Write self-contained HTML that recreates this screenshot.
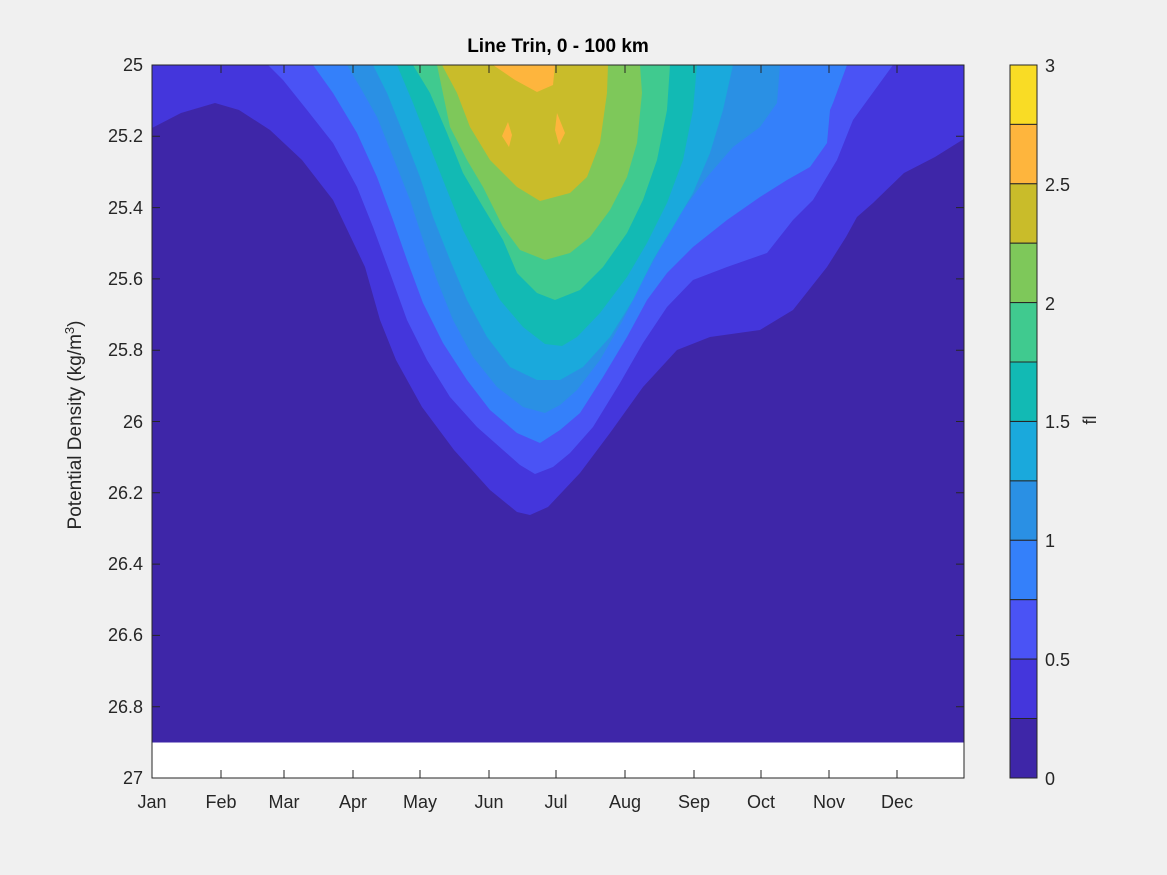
<!DOCTYPE html>
<html><head><meta charset="utf-8"><style>
html,body{margin:0;padding:0;background:#f0f0f0;}
svg{display:block;font-family:"Liberation Sans","DejaVu Sans",sans-serif;}
</style></head><body>
<svg width="1167" height="875" viewBox="0 0 1167 875" xmlns="http://www.w3.org/2000/svg">
<rect width="1167" height="875" fill="#f0f0f0"/>
<defs><clipPath id="ax"><rect x="152" y="65" width="812" height="713"/></clipPath></defs>
<g clip-path="url(#ax)">
<rect x="152" y="65" width="812" height="713" fill="#3e26a8"/>
<path fill="#4436dc" d="M150,65 L966,65 L967,137 L935,157 L904,173 L873,203 L857,217 L846,237 L827,267 L793,310 L760,330 L710,337 L677,350 L643,387 L610,433 L580,473 L548,507 L530,515 L517,512 L490,490 L454,450 L422,407 L396,360 L380,320 L365,267 L333,200 L302,160 L270,130 L239,110 L215,103 L181,113 L152,128 L150,130 Z"/>
<path fill="#4a53f5" d="M268,65 L283,80 L307,110 L333,143 L357,187 L373,227 L390,273 L407,320 L427,360 L450,397 L477,427 L503,450 L520,465 L535,474 L553,467 L570,453 L593,427 L620,383 L643,343 L667,307 L693,280 L727,267 L767,253 L793,220 L813,200 L837,160 L853,120 L893,65 Z"/>
<path fill="#3480fa" d="M313,65 L333,93 L357,133 L377,177 L393,220 L407,260 L423,303 L443,343 L467,380 L490,410 L517,433 L540,443 L560,430 L580,413 L603,377 L627,337 L647,300 L667,273 L693,247 L727,220 L760,197 L787,180 L810,167 L827,143 L830,110 L833,103 L847,65 Z"/>
<path fill="#2a90e4" d="M347,65 L360,87 L377,117 L393,157 L410,200 L423,240 L437,280 L453,320 L473,357 L497,387 L523,407 L545,413 L560,405 L577,390 L600,360 L623,320 L643,280 L663,243 L683,210 L707,177 L733,147 L760,127 L777,103 L780,65 Z"/>
<path fill="#1aa9dc" d="M373,65 L387,93 L403,133 L420,177 L433,217 L450,260 L467,300 L487,337 L510,367 L537,380 L560,380 L583,367 L610,337 L633,300 L653,260 L673,227 L693,193 L710,153 L723,110 L733,65 Z"/>
<path fill="#12bab4" d="M397,65 L413,103 L430,147 L447,190 L463,230 L480,263 L500,300 L523,327 L545,344 L562,346 L577,337 L600,313 L627,277 L647,243 L667,203 L683,160 L693,110 L697,65 Z"/>
<path fill="#40ca8f" d="M413,65 L430,93 L447,133 L463,173 L483,207 L503,240 L517,273 L537,293 L555,300 L580,290 L603,267 L627,233 L643,200 L657,160 L667,110 L670,65 Z"/>
<path fill="#7ec85a" d="M437,65 L450,127 L467,160 L483,187 L503,227 L520,250 L545,260 L570,253 L590,237 L610,210 L627,177 L637,143 L642,93 L640,65 Z"/>
<path fill="#c9bc2a" d="M442,65 L457,93 L470,127 L490,160 L517,187 L540,201 L570,193 L587,177 L600,143 L607,93 L608,65 Z"/>
<path fill="#feb53d" d="M493,65 L515,80 L537,92 L553,85 L555,65 Z"/>
<path fill="#feb53d" d="M508,122 L512,135 L509,147 L502,136 Z"/>
<path fill="#feb53d" d="M557,113 L565,133 L559,145 L555,130 Z"/>
<rect x="152" y="742.5" width="812" height="36" fill="#ffffff"/>
</g>
<rect x="152" y="65" width="812" height="713" fill="none" stroke="#262626" stroke-width="1"/>
<g stroke="#262626" stroke-width="1">
<path d="M152,136.3h8M152,207.6h8M152,278.9h8M152,350.2h8M152,421.5h8M152,492.8h8M152,564.1h8M152,635.4h8M152,706.7h8"/>
<path d="M964,136.3h-8M964,207.6h-8M964,278.9h-8M964,350.2h-8M964,421.5h-8M964,492.8h-8M964,564.1h-8M964,635.4h-8M964,706.7h-8"/>
<path d="M221,778v-8M284,778v-8M353,778v-8M420,778v-8M489,778v-8M556,778v-8M625,778v-8M694,778v-8M761,778v-8M829,778v-8M897,778v-8"/>
<path d="M221,65v8M284,65v8M353,65v8M420,65v8M489,65v8M556,65v8M625,65v8M694,65v8M761,65v8M829,65v8M897,65v8"/>
</g>
<g font-size="18" fill="#262626" text-anchor="end">
<text x="143" y="71">25</text><text x="143" y="142">25.2</text><text x="143" y="214">25.4</text><text x="143" y="285">25.6</text><text x="143" y="356">25.8</text><text x="143" y="428">26</text><text x="143" y="499">26.2</text><text x="143" y="570">26.4</text><text x="143" y="641">26.6</text><text x="143" y="713">26.8</text><text x="143" y="784">27</text>
</g>
<g font-size="18" fill="#262626" text-anchor="middle">
<text x="152" y="808">Jan</text><text x="221" y="808">Feb</text><text x="284" y="808">Mar</text><text x="353" y="808">Apr</text><text x="420" y="808">May</text><text x="489" y="808">Jun</text><text x="556" y="808">Jul</text><text x="625" y="808">Aug</text><text x="694" y="808">Sep</text><text x="761" y="808">Oct</text><text x="829" y="808">Nov</text><text x="897" y="808">Dec</text>
</g>
<text x="558" y="52" font-size="19" font-weight="bold" text-anchor="middle" fill="#000">Line Trin, 0 - 100 km</text>
<text transform="translate(81,425) rotate(-90)" font-size="19" text-anchor="middle" fill="#262626">Potential Density (kg/m<tspan dy="-7" font-size="13">3</tspan><tspan dy="7">)</tspan></text>
<g stroke="#262626" stroke-width="1">
<rect x="1010" y="65" width="27" height="59.4" fill="#f9dc25"/>
<rect x="1010" y="124.4" width="27" height="59.4" fill="#feb53d"/>
<rect x="1010" y="183.8" width="27" height="59.4" fill="#c9bc2a"/>
<rect x="1010" y="243.2" width="27" height="59.4" fill="#7ec85a"/>
<rect x="1010" y="302.6" width="27" height="59.4" fill="#40ca8f"/>
<rect x="1010" y="362" width="27" height="59.4" fill="#12bab4"/>
<rect x="1010" y="421.5" width="27" height="59.4" fill="#1aa9dc"/>
<rect x="1010" y="480.9" width="27" height="59.4" fill="#2a90e4"/>
<rect x="1010" y="540.3" width="27" height="59.4" fill="#3480fa"/>
<rect x="1010" y="599.7" width="27" height="59.4" fill="#4a53f5"/>
<rect x="1010" y="659.1" width="27" height="59.4" fill="#4436dc"/>
<rect x="1010" y="718.5" width="27" height="59.5" fill="#3e26a8"/>
</g>
<g font-size="18" fill="#262626">
<text x="1045" y="72">3</text><text x="1045" y="191">2.5</text><text x="1045" y="310">2</text><text x="1045" y="428">1.5</text><text x="1045" y="547">1</text><text x="1045" y="666">0.5</text><text x="1045" y="785">0</text>
</g>
<text transform="translate(1096,420) rotate(-90)" font-size="18" text-anchor="middle" fill="#262626">fl</text>
</svg>
</body></html>
